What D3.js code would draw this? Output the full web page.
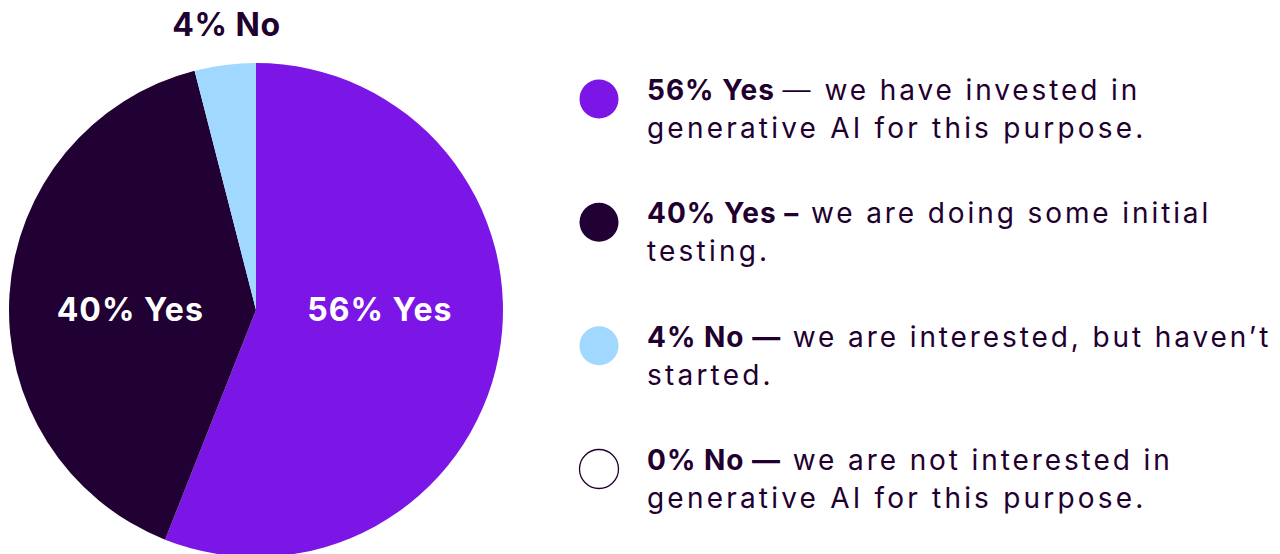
<!DOCTYPE html>
<html>
<head>
<meta charset="utf-8">
<script src="https://cdn.jsdelivr.net/npm/d3@7"></script>
<style>
  html, body { margin: 0; padding: 0; background: #fff; }
  svg text { font-family: Inter, "Noto Sans", sans-serif; }
</style>
</head>
<body>
<svg id="chart" width="1280" height="554"></svg>
<script>
// slices, clockwise from 12 o'clock
var labels   = ['56% Yes', '40% Yes', '4% No', '0% No'];
var values   = [56, 40, 4, 0];
var colors   = ['#7b16e6', '#210033', '#a0d8ff', '#ffffff'];
var dash     = ['\u2014', '\u2013', '\u2014', '\u2014'];
var dashBold = [false, true, true, true];
var line1    = ['we have invested in', 'we are doing some initial', 'we are interested, but haven\u2019t', 'we are not interested in'];
var line2    = ['generative AI for this purpose.', 'testing.', 'started.', 'generative AI for this purpose.'];

var ink = '#21002f';
var svg = d3.select('#chart');

var cx = 256, cy = 310, radius = 247;

var rows = labels.map(function(l, i) {
  return { label: l, value: values[i], color: colors[i], i: i };
});

var pie = d3.pie().sort(null).value(function(d) { return d.value; });
var arc = d3.arc().innerRadius(0).outerRadius(radius);

var g = svg.append('g').attr('transform', 'translate(' + cx + ',' + cy + ')');

var arcs = pie(rows).filter(function(d) { return d.data.value > 0; });

g.selectAll('path.slice')
  .data(arcs)
  .enter().append('path')
  .attr('class', 'slice')
  .attr('d', arc)
  .attr('fill', function(d) { return d.data.color; });

// labels: big slices sit on the horizontal centre line, small ones go above
g.selectAll('text.slice-label')
  .data(arcs)
  .enter().append('text')
  .attr('class', 'slice-label')
  .attr('text-anchor', 'middle')
  .attr('font-size', 32)
  .attr('font-weight', 700)
  .attr('letter-spacing', function(d) { return d.data.value >= 10 ? 1 : 0.5; })
  .attr('fill', function(d) { return d.data.value >= 10 ? '#fff' : ink; })
  .attr('x', function(d) {
    var a = (d.startAngle + d.endAngle) / 2;
    return d.data.value >= 10 ? Math.sin(a) * 126 : Math.sin(a) * 236;
  })
  .attr('y', function(d) {
    return d.data.value >= 10 ? 11 : -radius - 27;
  })
  .text(function(d) { return d.data.label; });

// legend
var legend = svg.append('g').attr('transform', 'translate(599,0)');
var rowY = d3.scalePoint().domain(d3.range(labels.length)).range([99, 469]);

var item = legend.selectAll('g.item')
  .data(rows)
  .enter().append('g')
  .attr('class', 'item')
  .attr('transform', function(d) { return 'translate(0,' + rowY(d.i) + ')'; });

item.append('circle')
  .attr('r', 19.5)
  .attr('fill', function(d) { return d.color; })
  .attr('stroke', function(d) { return d.value === 0 ? ink : 'none'; })
  .attr('stroke-width', 1.3);

var t = item.append('text')
  .attr('x', 48)
  .attr('y', 1)
  .attr('font-size', 28)
  .attr('fill', ink);

t.append('tspan')
  .attr('font-weight', 700)
  .attr('letter-spacing', 1)
  .text(function(d) { return d.label + ' '; });
t.append('tspan')
  .attr('font-weight', function(d) { return dashBold[d.i] ? 700 : 300; })
  .attr('letter-spacing', 3)
  .text(function(d) { return dash[d.i] + ' '; });
t.append('tspan')
  .attr('font-weight', 400)
  .attr('letter-spacing', 2.9)
  .text(function(d) { return line1[d.i]; });

item.append('text')
  .attr('x', 48)
  .attr('y', 39)
  .attr('font-size', 28)
  .attr('letter-spacing', 3.2)
  .attr('fill', ink)
  .text(function(d) { return line2[d.i]; });
</script>
</body>
</html>
